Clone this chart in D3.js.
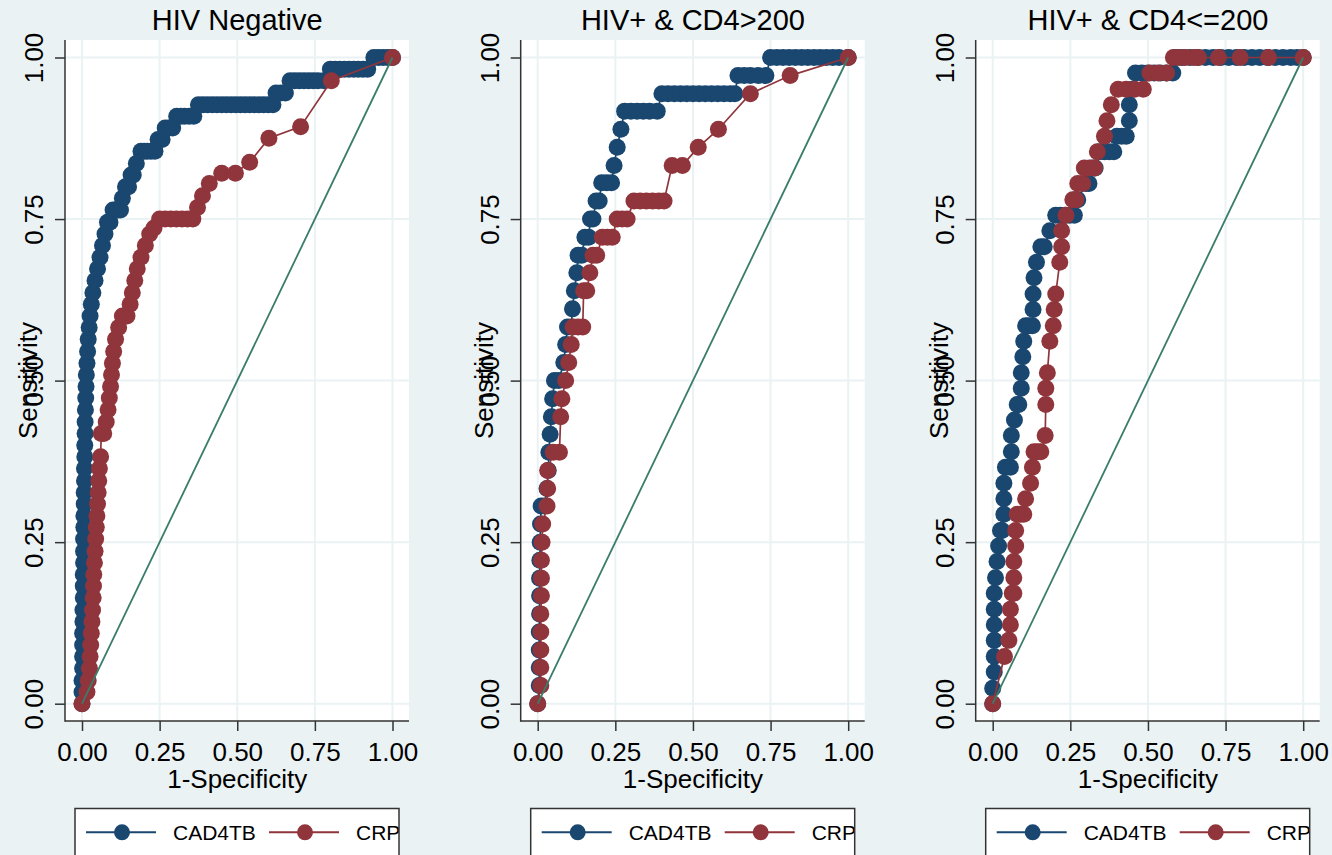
<!DOCTYPE html>
<html>
<head>
<meta charset="utf-8">
<script src="https://cdn.jsdelivr.net/npm/d3@7"></script>
<style>
body { margin: 0; background: #eaf2f3; }
svg { display: block; font-family: "Liberation Sans", Arial, sans-serif; }
</style>
</head>
<body>
<script>
// ROC points: [1-specificity, sensitivity]
var hivNegCad4tb = [[0,0],[0,0.018],[0,0.036],[0.002,0.055],[0.002,0.073],[0.002,0.091],[0.002,0.109],[0.003,0.127],[0.003,0.145],[0.004,0.164],[0.004,0.182],[0.004,0.2],[0.005,0.218],[0.005,0.236],[0.005,0.255],[0.006,0.273],[0.006,0.291],[0.007,0.309],[0.007,0.327],[0.008,0.345],[0.008,0.364],[0.009,0.382],[0.009,0.4],[0.01,0.418],[0.01,0.436],[0.011,0.455],[0.012,0.473],[0.013,0.491],[0.014,0.509],[0.016,0.527],[0.018,0.545],[0.02,0.564],[0.023,0.582],[0.026,0.6],[0.03,0.618],[0.035,0.636],[0.042,0.655],[0.05,0.673],[0.058,0.691],[0.066,0.709],[0.074,0.727],[0.082,0.745],[0.09,0.745],[0.1,0.764],[0.108,0.764],[0.116,0.764],[0.124,0.764],[0.13,0.782],[0.14,0.8],[0.15,0.8],[0.158,0.818],[0.165,0.818],[0.175,0.836],[0.19,0.855],[0.2,0.855],[0.21,0.855],[0.222,0.855],[0.235,0.855],[0.245,0.873],[0.258,0.873],[0.268,0.891],[0.28,0.891],[0.292,0.891],[0.305,0.909],[0.318,0.909],[0.33,0.909],[0.345,0.909],[0.36,0.909],[0.375,0.927],[0.39,0.927],[0.405,0.927],[0.42,0.927],[0.435,0.927],[0.45,0.927],[0.465,0.927],[0.48,0.927],[0.495,0.927],[0.51,0.927],[0.525,0.927],[0.54,0.927],[0.555,0.927],[0.57,0.927],[0.585,0.927],[0.6,0.927],[0.615,0.927],[0.625,0.945],[0.64,0.945],[0.655,0.945],[0.67,0.964],[0.685,0.964],[0.7,0.964],[0.715,0.964],[0.73,0.964],[0.745,0.964],[0.76,0.964],[0.78,0.964],[0.8,0.982],[0.815,0.982],[0.83,0.982],[0.845,0.982],[0.86,0.982],[0.875,0.982],[0.89,0.982],[0.905,0.982],[0.92,0.982],[0.94,1],[0.955,1],[0.97,1],[0.985,1],[1,1]];
var hivNegCrp = [[0,0],[0.016,0.018],[0.02,0.036],[0.024,0.055],[0.026,0.073],[0.028,0.091],[0.03,0.109],[0.032,0.127],[0.034,0.145],[0.036,0.164],[0.037,0.182],[0.038,0.2],[0.04,0.218],[0.042,0.236],[0.044,0.255],[0.046,0.273],[0.048,0.291],[0.05,0.309],[0.052,0.327],[0.054,0.345],[0.056,0.364],[0.06,0.382],[0.062,0.418],[0.07,0.418],[0.078,0.436],[0.084,0.455],[0.088,0.473],[0.092,0.491],[0.095,0.509],[0.098,0.527],[0.102,0.545],[0.108,0.564],[0.118,0.582],[0.13,0.6],[0.145,0.6],[0.155,0.618],[0.162,0.636],[0.17,0.655],[0.178,0.673],[0.19,0.691],[0.204,0.709],[0.218,0.727],[0.232,0.736],[0.25,0.75],[0.268,0.75],[0.286,0.75],[0.304,0.75],[0.322,0.75],[0.34,0.75],[0.357,0.75],[0.372,0.768],[0.388,0.786],[0.41,0.805],[0.45,0.821],[0.494,0.821],[0.54,0.838],[0.602,0.875],[0.704,0.893],[0.803,0.964],[1,1]];

var cd4HighCad4tb = [[0,0],[0.005,0.028],[0.005,0.056],[0.005,0.083],[0.005,0.111],[0.006,0.139],[0.006,0.167],[0.006,0.194],[0.007,0.222],[0.008,0.25],[0.009,0.278],[0.011,0.306],[0.022,0.306],[0.03,0.333],[0.034,0.361],[0.036,0.389],[0.04,0.417],[0.044,0.444],[0.048,0.472],[0.054,0.5],[0.068,0.5],[0.084,0.528],[0.09,0.556],[0.096,0.583],[0.108,0.583],[0.112,0.611],[0.118,0.639],[0.126,0.667],[0.13,0.694],[0.142,0.694],[0.152,0.722],[0.164,0.722],[0.17,0.75],[0.178,0.75],[0.188,0.778],[0.198,0.778],[0.206,0.806],[0.222,0.806],[0.238,0.806],[0.246,0.833],[0.256,0.861],[0.268,0.889],[0.28,0.917],[0.3,0.917],[0.32,0.917],[0.34,0.917],[0.36,0.917],[0.385,0.917],[0.4,0.944],[0.42,0.944],[0.44,0.944],[0.46,0.944],[0.48,0.944],[0.5,0.944],[0.52,0.944],[0.54,0.944],[0.56,0.944],[0.58,0.944],[0.6,0.944],[0.62,0.944],[0.635,0.944],[0.645,0.972],[0.665,0.972],[0.685,0.972],[0.71,0.972],[0.735,0.972],[0.75,1],[0.77,1],[0.79,1],[0.81,1],[0.83,1],[0.85,1],[0.87,1],[0.89,1],[0.91,1],[0.93,1],[0.95,1],[0.97,1],[1,1]];
var cd4HighCrp = [[0,0],[0.01,0.028],[0.01,0.056],[0.01,0.083],[0.01,0.111],[0.01,0.139],[0.012,0.167],[0.012,0.194],[0.012,0.222],[0.014,0.25],[0.016,0.278],[0.03,0.306],[0.032,0.333],[0.032,0.361],[0.05,0.389],[0.07,0.389],[0.074,0.444],[0.078,0.472],[0.09,0.5],[0.1,0.528],[0.108,0.556],[0.114,0.583],[0.13,0.583],[0.145,0.583],[0.148,0.639],[0.158,0.639],[0.168,0.667],[0.178,0.694],[0.19,0.694],[0.208,0.722],[0.224,0.722],[0.24,0.722],[0.256,0.75],[0.272,0.75],[0.288,0.75],[0.31,0.778],[0.33,0.778],[0.35,0.778],[0.37,0.778],[0.39,0.778],[0.407,0.778],[0.433,0.833],[0.466,0.833],[0.517,0.861],[0.582,0.889],[0.685,0.944],[0.813,0.972],[1,1]];

var cd4LowCad4tb = [[0,0],[0,0.024],[0.005,0.049],[0.005,0.073],[0.005,0.098],[0.005,0.122],[0.005,0.146],[0.005,0.171],[0.009,0.195],[0.014,0.22],[0.019,0.244],[0.025,0.268],[0.03,0.268],[0.036,0.293],[0.036,0.317],[0.036,0.341],[0.041,0.366],[0.057,0.366],[0.06,0.39],[0.06,0.415],[0.07,0.439],[0.079,0.463],[0.084,0.463],[0.092,0.488],[0.092,0.512],[0.097,0.537],[0.1,0.561],[0.106,0.585],[0.117,0.585],[0.128,0.585],[0.13,0.61],[0.13,0.634],[0.133,0.659],[0.141,0.683],[0.155,0.707],[0.166,0.707],[0.184,0.732],[0.203,0.756],[0.218,0.756],[0.233,0.756],[0.248,0.756],[0.263,0.756],[0.268,0.78],[0.274,0.78],[0.3,0.805],[0.31,0.805],[0.32,0.829],[0.33,0.829],[0.345,0.854],[0.36,0.854],[0.375,0.854],[0.39,0.854],[0.4,0.878],[0.415,0.878],[0.43,0.878],[0.44,0.902],[0.44,0.927],[0.45,0.951],[0.46,0.976],[0.48,0.976],[0.5,0.976],[0.52,0.976],[0.54,0.976],[0.56,0.976],[0.58,0.976],[0.59,1],[0.61,1],[0.635,1],[0.66,1],[0.685,1],[0.71,1],[0.735,1],[0.76,1],[0.785,1],[0.81,1],[0.835,1],[0.86,1],[0.885,1],[0.91,1],[0.935,1],[0.96,1],[0.98,1],[1,1]];
var cd4LowCrp = [[0,0],[0.038,0.073],[0.052,0.098],[0.057,0.122],[0.057,0.146],[0.063,0.171],[0.068,0.171],[0.068,0.195],[0.068,0.22],[0.074,0.244],[0.074,0.268],[0.079,0.293],[0.09,0.293],[0.1,0.293],[0.106,0.317],[0.122,0.341],[0.128,0.366],[0.133,0.39],[0.144,0.39],[0.155,0.39],[0.169,0.415],[0.171,0.463],[0.171,0.488],[0.176,0.512],[0.184,0.561],[0.195,0.585],[0.198,0.61],[0.203,0.634],[0.216,0.683],[0.222,0.707],[0.222,0.732],[0.236,0.756],[0.258,0.78],[0.268,0.78],[0.274,0.805],[0.29,0.805],[0.295,0.829],[0.312,0.829],[0.328,0.829],[0.337,0.854],[0.36,0.878],[0.368,0.902],[0.382,0.927],[0.404,0.951],[0.43,0.951],[0.457,0.951],[0.485,0.951],[0.506,0.976],[0.533,0.976],[0.56,0.976],[0.582,1],[0.6,1],[0.62,1],[0.647,1],[0.663,1],[0.727,1],[0.797,1],[0.888,1],[1,1]];

var panelTitles = ["HIV Negative", "HIV+ & CD4>200", "HIV+ & CD4<=200"];
var seriesNames = ["CAD4TB", "CRP"];
var tickValues = [0, 0.25, 0.5, 0.75, 1];
var xTitle = "1-Specificity", yTitle = "Sensitivity";

var panels = [
    {title: panelTitles[0], series: [hivNegCad4tb, hivNegCrp]},
    {title: panelTitles[1], series: [cd4HighCad4tb, cd4HighCrp]},
    {title: panelTitles[2], series: [cd4LowCad4tb, cd4LowCrp]}
];

var colors = ["#1a476f", "#90353b"];
var refColor = "#3a7c6a";
var bg = "#eaf2f3";
var axisColor = "#333";

var width = 1332, height = 855;
var panelLeft = [65, 520.7, 975.7];   // y axis line of each panel
var plotTop = 40, plotBottom = 721, plotWidth = 344;

var svg = d3.select("body").append("svg")
    .attr("width", width)
    .attr("height", height);

svg.append("rect").attr("width", width).attr("height", height).attr("fill", bg);

panels.forEach(function(p, i) {
    var left = panelLeft[i];
    var g = svg.append("g");

    var x = d3.scaleLinear().domain([0, 1]).range([left + 17, left + 327.5]);
    var y = d3.scaleLinear().domain([0, 1]).range([703.7, 57.5]);

    // plot region
    g.append("rect")
        .attr("x", left).attr("y", plotTop)
        .attr("width", plotWidth).attr("height", plotBottom - plotTop)
        .attr("fill", "#fff");

    // grid lines
    g.selectAll(".vgrid").data(tickValues).enter().append("line")
        .attr("x1", function(d) { return x(d); })
        .attr("x2", function(d) { return x(d); })
        .attr("y1", plotTop).attr("y2", plotBottom)
        .attr("stroke", bg).attr("stroke-width", 2);
    g.selectAll(".hgrid").data(tickValues).enter().append("line")
        .attr("x1", left).attr("x2", left + plotWidth)
        .attr("y1", function(d) { return y(d); })
        .attr("y2", function(d) { return y(d); })
        .attr("stroke", bg).attr("stroke-width", 2);

    // Y axis
    var yAxis = g.append("g")
        .attr("transform", "translate(" + left + ",0)")
        .call(d3.axisLeft(y).tickValues(tickValues).tickFormat(d3.format(".2f")).tickSize(10).tickSizeOuter(0));
    yAxis.select(".domain").remove();
    yAxis.selectAll("line").attr("stroke", axisColor).attr("stroke-width", 1.5);
    yAxis.selectAll("text")
        .attr("transform", "rotate(-90)")
        .attr("x", 0).attr("y", -22).attr("dy", 0)
        .attr("text-anchor", "middle")
        .attr("fill", "#000")
        .style("font-size", "26px")
        .style("font-family", "Liberation Sans, Arial, sans-serif");

    // X axis
    var xAxis = g.append("g")
        .attr("transform", "translate(0," + plotBottom + ")")
        .call(d3.axisBottom(x).tickValues(tickValues).tickFormat(d3.format(".2f")).tickSize(10).tickSizeOuter(0));
    xAxis.select(".domain").remove();
    xAxis.selectAll("line").attr("stroke", axisColor).attr("stroke-width", 1.5);
    xAxis.selectAll("text")
        .attr("y", 40).attr("dy", 0)
        .attr("fill", "#000")
        .style("font-size", "26px")
        .style("font-family", "Liberation Sans, Arial, sans-serif");

    // axis lines
    g.append("line")
        .attr("x1", left).attr("x2", left)
        .attr("y1", plotTop).attr("y2", plotBottom + 0.75)
        .attr("stroke", axisColor).attr("stroke-width", 1.5);
    g.append("line")
        .attr("x1", left).attr("x2", left + plotWidth)
        .attr("y1", plotBottom).attr("y2", plotBottom)
        .attr("stroke", axisColor).attr("stroke-width", 1.5);

    // titles
    g.append("text")
        .attr("x", (x(0) + x(1)) / 2).attr("y", 30)
        .attr("text-anchor", "middle")
        .style("font-size", "29px").attr("fill", "#000")
        .text(p.title);

    g.append("text")
        .attr("x", (x(0) + x(1)) / 2).attr("y", 788)
        .attr("text-anchor", "middle")
        .style("font-size", "26px").attr("fill", "#000")
        .text(xTitle);

    g.append("text")
        .attr("transform", "translate(" + (left - 28) + "," + ((y(0) + y(1)) / 2) + ") rotate(-90)")
        .attr("text-anchor", "middle")
        .style("font-size", "26px").attr("fill", "#000")
        .text(yTitle);

    // ROC curves
    var line = d3.line()
        .x(function(d) { return x(d[0]); })
        .y(function(d) { return y(d[1]); });

    p.series.forEach(function(s, k) {
        g.append("path")
            .datum(s)
            .attr("d", line)
            .attr("fill", "none")
            .attr("stroke", colors[k])
            .attr("stroke-width", 1.7);
        g.selectAll(".dot" + k).data(s).enter().append("circle")
            .attr("cx", function(d) { return x(d[0]); })
            .attr("cy", function(d) { return y(d[1]); })
            .attr("r", 8.5)
            .attr("fill", colors[k]);
    });

    // reference diagonal
    g.append("line")
        .attr("x1", x(0)).attr("y1", y(0))
        .attr("x2", x(1)).attr("y2", y(1))
        .attr("stroke", refColor).attr("stroke-width", 1.8);

    // legend
    var boxX = left + 10, boxY = 808.5, boxW = 324;
    var clipId = "legclip" + i;
    svg.append("clipPath").attr("id", clipId)
        .append("rect").attr("x", boxX).attr("y", boxY).attr("width", boxW).attr("height", 60);
    var leg = g.append("g");
    leg.append("rect")
        .attr("x", boxX).attr("y", boxY).attr("width", boxW).attr("height", 60)
        .attr("fill", "#fff");
    var items = leg.append("g").attr("clip-path", "url(#" + clipId + ")");
    seriesNames.forEach(function(name, k) {
        var ox = boxX + k * 183;
        items.append("line")
            .attr("x1", ox + 11).attr("x2", ox + 81)
            .attr("y1", 832.3).attr("y2", 832.3)
            .attr("stroke", colors[k]).attr("stroke-width", 2);
        items.append("circle")
            .attr("cx", ox + 47).attr("cy", 832.3).attr("r", 8)
            .attr("fill", colors[k]);
        items.append("text")
            .attr("x", ox + 98).attr("y", 839.5)
            .style("font-size", "21px").attr("fill", "#000")
            .text(name);
    });
    leg.append("rect")
        .attr("x", boxX).attr("y", boxY).attr("width", boxW).attr("height", 60)
        .attr("fill", "none").attr("stroke", axisColor).attr("stroke-width", 1.5);
});
</script>
</body>
</html>
